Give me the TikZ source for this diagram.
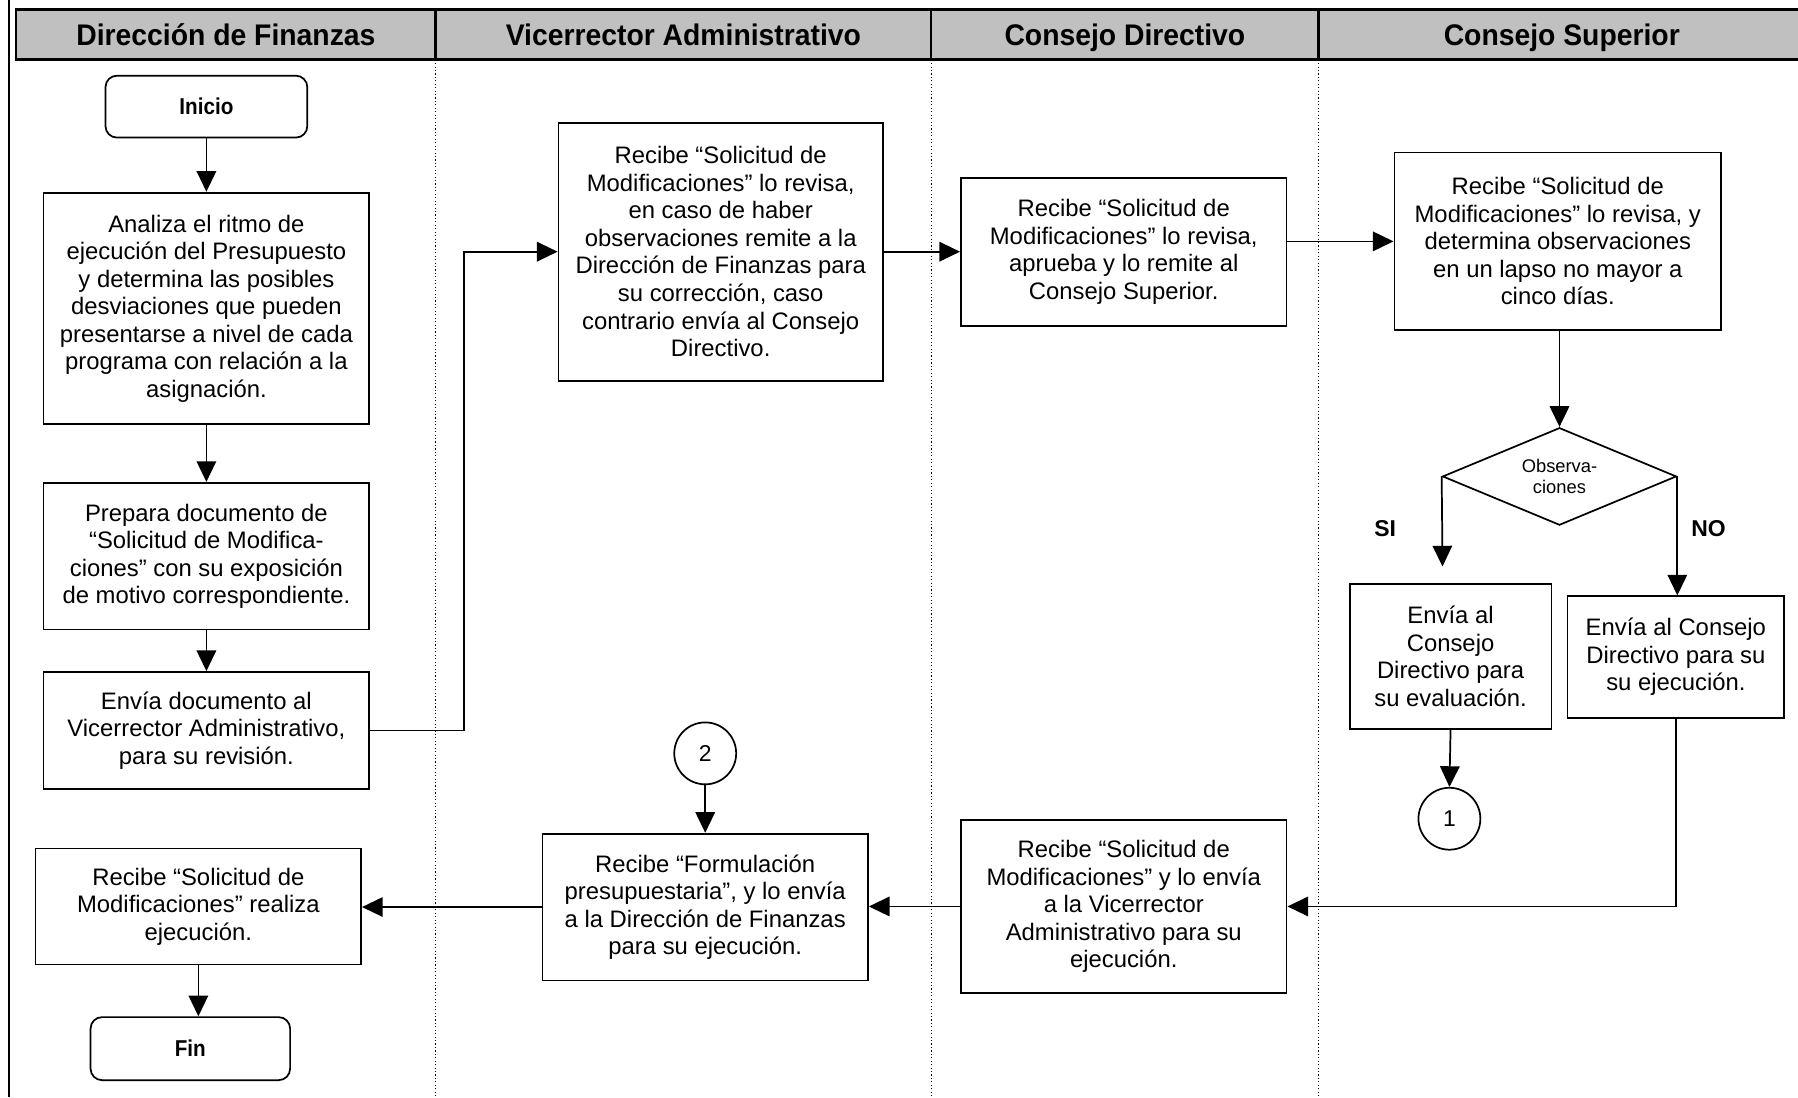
\documentclass[tikz,border=0pt]{standalone}
\usepackage{fontspec}
\usepackage{graphicx}
\setmainfont{Liberation Sans}
\usetikzlibrary{arrows.meta,shapes.geometric}
\definecolor{hdrgray}{RGB}{192,192,192}

\begin{document}
\begin{tikzpicture}[x=0.5pt,y=-0.5pt,
  line width=0.75pt,
  box/.style={draw, rectangle, align=center, inner sep=0pt,
    font=\fontsize{10.4}{12}\selectfont},
  term/.style={draw, rectangle, rounded corners=5pt, inner sep=0pt,
    font=\fontsize{10}{12}\selectfont\bfseries},
  conn/.style={draw, circle, inner sep=0pt, minimum size=27pt,
    font=\fontsize{10}{12}\selectfont},
  arr/.style={-{Triangle[length=9pt,width=8.5pt]}},
  hdr/.style={draw, fill=hdrgray, line width=1.2pt, inner sep=0pt,
    text height=11pt, text depth=1pt,
    minimum height=22pt, font=\fontsize{13}{15}\selectfont\bfseries},
  lane/.style={densely dotted, line width=0.5pt},
  lbl/.style={font=\fontsize{10}{12}\selectfont\bfseries}
]
\useasboundingbox (0,0) rectangle (1568,957);

% outer left border
\draw[line width=0.9pt] (8,0) -- (8,957);

% swimlane separators
\draw[lane] (380,52) -- (380,957);
\draw[lane] (812,52) -- (812,957);
\draw[lane] (1150,52) -- (1150,957);

% lane headers
\node[hdr, minimum width=183pt] (h1) at (197,30) {\scalebox{0.95}[1]{Dirección de Finanzas}};
\node[hdr, minimum width=216pt] (h2) at (596,30) {\scalebox{0.95}[1]{Vicerrector Administrativo}};
\node[hdr, minimum width=169pt] (h3) at (981,30) {\scalebox{0.95}[1]{Consejo Directivo}};
\node[hdr, minimum width=212pt] (h4) at (1362,30) {\scalebox{0.95}[1]{Consejo Superior}};

% Dirección de Finanzas
\node[term, minimum width=88pt, minimum height=27pt] (ini) at (180,93) {\scalebox{0.9}[1]{Inicio}};
\node[box, minimum width=142pt, minimum height=101pt] (ana) at (180,269)
  {Analiza el ritmo de\\ejecución del Presupuesto\\y determina las posibles\\desviaciones que pueden\\presentarse a nivel de cada\\programa con relación a la\\asignación.};
\node[box, minimum width=142pt, minimum height=64pt] (pre) at (180,485)
  {Prepara documento de\\“Solicitud de Modifica-\\ciones” con su exposición\\de motivo correspondiente.};
\node[box, minimum width=142pt, minimum height=51pt] (env) at (180,637)
  {Envía documento al\\Vicerrector Administrativo,\\para su revisión.};
\node[box, minimum width=142pt, minimum height=50.5pt] (rec) at (173,790.5)
  {Recibe “Solicitud de\\Modificaciones” realiza\\ejecución.};
\node[term, minimum width=87pt, minimum height=27.5pt] (fin) at (166,914.5) {\scalebox{0.9}[1]{Fin}};

% Vicerrector Administrativo
\node[box, minimum width=141.5pt, minimum height=112.5pt] (vr1) at (628.5,219.5)
  {Recibe “Solicitud de\\Modificaciones” lo revisa,\\en caso de haber\\observaciones remite a la\\Dirección de Finanzas para\\su corrección, caso\\contrario envía al Consejo\\Directivo.};
\node[conn] (c2) at (615,657) {2};
\node[box, minimum width=142pt, minimum height=64pt] (form) at (615,791)
  {Recibe “Formulación\\presupuestaria”, y lo envía\\a la Dirección de Finanzas\\para su ejecución.};

% Consejo Directivo
\node[box, minimum width=142pt, minimum height=64.5pt] (cd1) at (980,219.5)
  {Recibe “Solicitud de\\Modificaciones” lo revisa,\\aprueba y lo remite al\\Consejo Superior.};
\node[box, minimum width=142pt, minimum height=75.5pt] (cd2) at (980,790.5)
  {Recibe “Solicitud de\\Modificaciones” y lo envía\\a la Vicerrector\\Administrativo para su\\ejecución.};

% Consejo Superior
\node[box, minimum width=142.5pt, minimum height=77.5pt] (cs1) at (1358.5,210.5)
  {Recibe “Solicitud de\\Modificaciones” lo revisa, y\\determina observaciones\\en un lapso no mayor a\\cinco días.};
\node[draw, diamond, aspect=2.4, minimum width=102pt, minimum height=42.5pt, inner sep=0pt,
  align=center, font=\fontsize{8}{9.5}\selectfont] (dia) at (1360,415.5) {Observa-\\ciones};
\node[lbl] (si) at (1208,461) {SI};
\node[lbl] (no) at (1490,461) {NO};
\node[box, minimum width=88pt, minimum height=63.5pt] (b15) at (1265,572.5)
  {Envía al\\Consejo\\Directivo para\\su evaluación.};
\node[box, minimum width=94.5pt, minimum height=53pt] (b16) at (1461.5,573)
  {Envía al Consejo\\Directivo para su\\su ejecución.};
\node[conn] (c1) at (1264,714) {1};
\coordinate (siend) at (1258,494);

% connectors
\draw[arr] (ini) -- (ana);
\draw[arr] (ana) -- (pre);
\draw[arr] (pre) -- (env);
\draw[arr] (env.east) -- ++(82,0) |- (vr1.west);
\draw[arr] (vr1.east) -- (cd1.west);
\draw[arr] (cd1.east |- cs1.west) -- (cs1.west);
\draw[arr] (dia.north |- cs1.south) -- (dia.north);
\draw[arr] (dia.west) -- (siend);
\draw[arr] (dia.east) -- (dia.east |- b16.north);
\draw[arr] (b15.south) -- (c1.north);
\draw[arr] (b16.south) |- (cd2.east);
\draw[arr] (cd2.west) -- (cd2.west -| form.east);
\draw[arr] (c2) -- (form);
\draw[arr] (form.west) -- (form.west -| rec.east);
\draw[arr] (rec.south) -- (rec.south |- fin.north);
\end{tikzpicture}
\end{document}
